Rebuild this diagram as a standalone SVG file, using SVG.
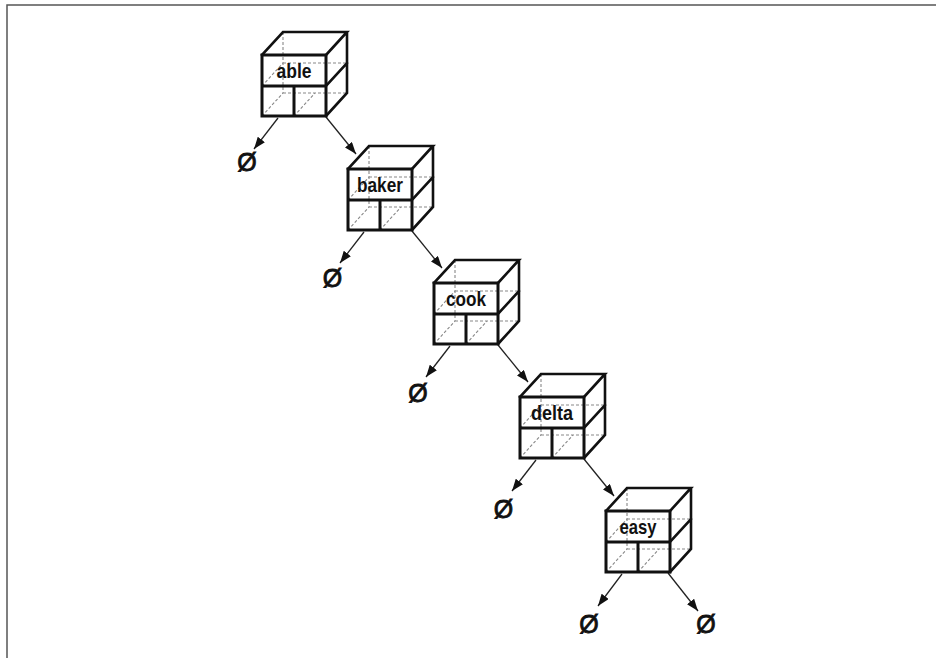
<svg xmlns="http://www.w3.org/2000/svg" xmlns:xlink="http://www.w3.org/1999/xlink" width="936" height="658" viewBox="0 0 936 658">
<style>
.solid{fill:none;stroke:#111;stroke-width:2.6;stroke-linejoin:miter;stroke-linecap:square}
.front{fill:none;stroke:#111;stroke-width:3}
.hid{fill:none;stroke:#888;stroke-width:1.1;stroke-dasharray:3 2}
.lbl{font-family:"Liberation Sans",Arial,sans-serif;font-weight:bold;font-size:21px;fill:#111;text-anchor:middle}
.nil{font-family:"Liberation Sans",Arial,sans-serif;font-size:25px;fill:#111;stroke:#111;stroke-width:0.8;text-anchor:middle}
.arr{fill:none;stroke:#222;stroke-width:1.3}
.frame{fill:none;stroke:#555;stroke-width:1.5}
</style>
<defs>
<marker id="ah" markerUnits="userSpaceOnUse" markerWidth="12" markerHeight="9" refX="12" refY="4.5" orient="auto">
<path d="M0,0 L12,4.5 L0,9 z" fill="#111"/>
</marker>
<g id="cube">
<path class="hid" d="M21,-23 V38 M21,38 H85 M21,8 H85 M0,61 L21,38 M0,31 L21,8 M32,61 L53,38"/>
<path class="solid" d="M0,0 L21,-23 H85 L64,0 M85,-23 V38 L64,61 M64,31 L85,8"/>
<rect class="front" x="0" y="0" width="64" height="61"/>
<path class="front" d="M0,31 H64 M32,31 V61"/>
</g>
</defs>
<rect width="936" height="658" fill="#fff"/>
<path class="frame" d="M7,658 V5 H936"/>
<g id="connectors">
<path class="arr" marker-end="url(#ah)" d="M278,118 L254,149"/>
<path class="arr" marker-end="url(#ah)" d="M326,117 L356,154"/>
<path class="arr" marker-end="url(#ah)" d="M364,232 L340,263"/>
<path class="arr" marker-end="url(#ah)" d="M412,231 L442,268"/>
<path class="arr" marker-end="url(#ah)" d="M450,346 L426,377"/>
<path class="arr" marker-end="url(#ah)" d="M498,345 L528,382"/>
<path class="arr" marker-end="url(#ah)" d="M536,460 L512,491"/>
<path class="arr" marker-end="url(#ah)" d="M584,459 L614,496"/>
<path class="arr" marker-end="url(#ah)" d="M622,574 L598,606"/>
<path class="arr" marker-end="url(#ah)" d="M668,573 L698,611"/>
</g>
<g id="node-able">
<use xlink:href="#cube" x="262" y="55"/>
<text class="lbl" x="294" y="78" textLength="35" lengthAdjust="spacingAndGlyphs">able</text>
</g>
<g id="node-baker">
<use xlink:href="#cube" x="348" y="169"/>
<text class="lbl" x="380" y="192" textLength="46" lengthAdjust="spacingAndGlyphs">baker</text>
</g>
<g id="node-cook">
<use xlink:href="#cube" x="434" y="283"/>
<text class="lbl" x="466" y="306" textLength="40" lengthAdjust="spacingAndGlyphs">cook</text>
</g>
<g id="node-delta">
<use xlink:href="#cube" x="520" y="397"/>
<text class="lbl" x="552" y="420" textLength="42" lengthAdjust="spacingAndGlyphs">delta</text>
</g>
<g id="node-easy">
<use xlink:href="#cube" x="606" y="511"/>
<text class="lbl" x="638" y="534" textLength="37" lengthAdjust="spacingAndGlyphs">easy</text>
</g>
<g id="nil-1"><text class="nil" x="247" y="171">Ø</text></g>
<g id="nil-2"><text class="nil" x="332.5" y="286.5">Ø</text></g>
<g id="nil-3"><text class="nil" x="418" y="402">Ø</text></g>
<g id="nil-4"><text class="nil" x="503.5" y="517.5">Ø</text></g>
<g id="nil-5"><text class="nil" x="589" y="633">Ø</text></g>
<g id="nil-6"><text class="nil" x="706" y="633">Ø</text></g>
</svg>
